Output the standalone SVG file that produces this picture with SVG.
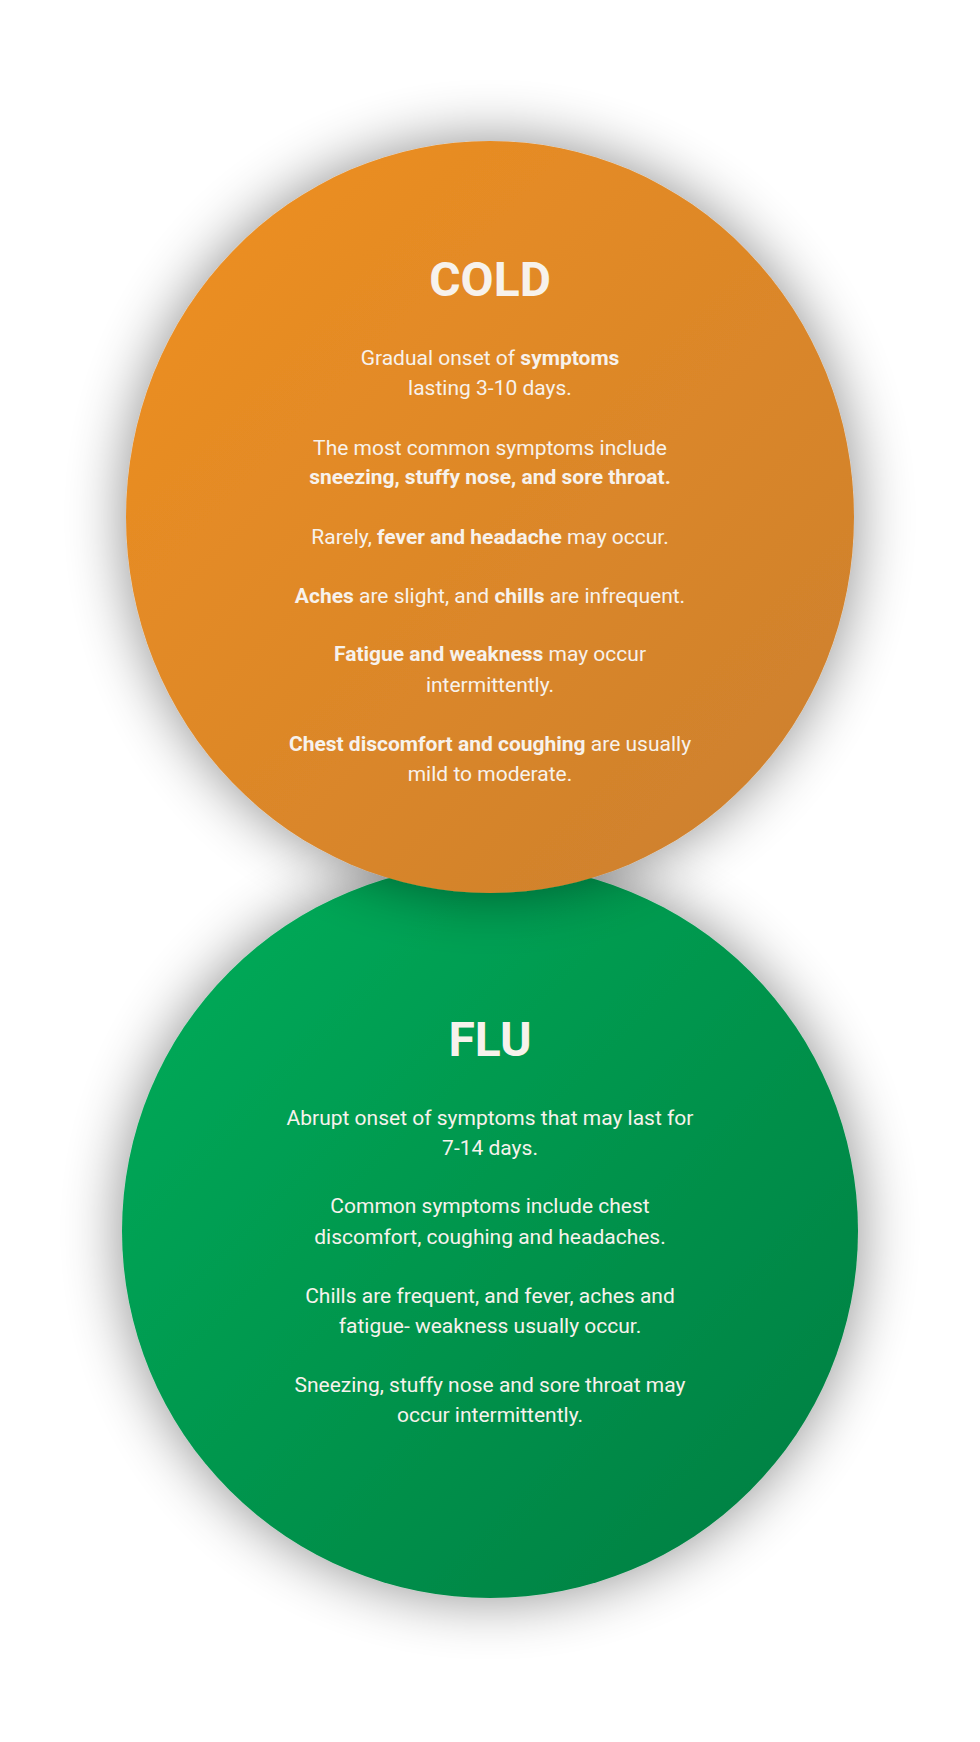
<svg xmlns="http://www.w3.org/2000/svg" width="980" height="1742" viewBox="0 0 980 1742">
<defs>
<linearGradient id="og" x1="0" y1="0" x2="1" y2="1"><stop offset="0" stop-color="#F09020"/><stop offset="1" stop-color="#CA7F30"/></linearGradient>
<linearGradient id="gg" x1="0" y1="0" x2="1" y2="1"><stop offset="0" stop-color="#00AE5A"/><stop offset="1" stop-color="#007C40"/></linearGradient>
<filter id="sh" x="-30%" y="-30%" width="160%" height="160%"><feGaussianBlur in="SourceAlpha" stdDeviation="30"/><feComponentTransfer><feFuncA type="linear" slope="0.45"/></feComponentTransfer><feMerge><feMergeNode/><feMergeNode in="SourceGraphic"/></feMerge></filter>
<style>
text{font-family:Roboto,"Liberation Sans",sans-serif;fill:#F7F2EC;text-anchor:middle}
.t{font-size:48px;font-weight:700}
.b{font-size:21px}
.k{font-weight:700}
</style>
</defs>
<rect width="980" height="1742" fill="#fff"/>
<g id="flu">
<ellipse cx="490" cy="1231" rx="368" ry="367" fill="url(#gg)" filter="url(#sh)"/>
<text class="t" x="490" y="1056">FLU</text>
<text class="b" x="490" y="1125">Abrupt onset of symptoms that may last for</text>
<text class="b" x="490" y="1155">7-14 days.</text>
<text class="b" x="490" y="1213">Common symptoms include chest</text>
<text class="b" x="490" y="1244">discomfort, coughing and headaches.</text>
<text class="b" x="490" y="1303">Chills are frequent, and fever, aches and</text>
<text class="b" x="490" y="1333">fatigue- weakness usually occur.</text>
<text class="b" x="490" y="1392">Sneezing, stuffy nose and sore throat may</text>
<text class="b" x="490" y="1422">occur intermittently.</text>
</g>
<g id="cold">
<ellipse cx="490" cy="517" rx="364" ry="376" fill="url(#og)" filter="url(#sh)"/>
<text class="t" x="490" y="296">COLD</text>
<text class="b" x="490" y="365">Gradual onset of <tspan class="k">symptoms</tspan></text>
<text class="b" x="490" y="395">lasting 3-10 days.</text>
<text class="b" x="490" y="455">The most common symptoms include</text>
<text class="b k" x="490" y="484">sneezing, stuffy nose, and sore throat.</text>
<text class="b" x="490" y="544">Rarely, <tspan class="k">fever and headache</tspan> may occur.</text>
<text class="b" x="490" y="603"><tspan class="k">Aches</tspan> are slight, and <tspan class="k">chills</tspan> are infrequent.</text>
<text class="b" x="490" y="661"><tspan class="k">Fatigue and weakness</tspan> may occur</text>
<text class="b" x="490" y="692">intermittently.</text>
<text class="b" x="490" y="751"><tspan class="k">Chest discomfort and coughing</tspan> are usually</text>
<text class="b" x="490" y="781">mild to moderate.</text>
</g>
<g id="connectors"/>
</svg>
